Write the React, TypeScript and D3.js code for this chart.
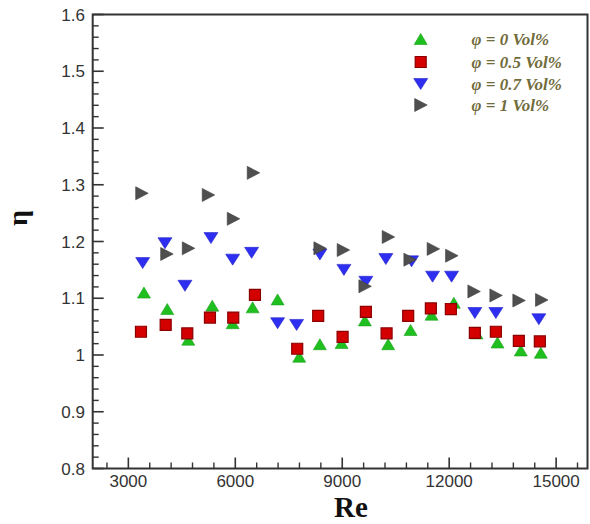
import React from "react";
import * as d3 from "d3";

// ---- data ----
const reG = [3438, 4092, 4681, 5354, 5926, 6486, 7187, 7793, 8373, 8982, 9635, 10289, 10917, 11506, 12131, 12767, 13356, 14009, 14570];
const etaG = [1.110, 1.081, 1.027, 1.087, 1.056, 1.084, 1.098, 0.997, 1.019, 1.021, 1.061, 1.019, 1.044, 1.071, 1.092, 1.038, 1.022, 1.008, 1.004];

const reR = [3354, 4047, 4653, 5289, 5943, 6551, 7737, 8326, 9010, 9663, 10244, 10850, 11486, 12047, 12720, 13309, 13954, 14543];
const etaR = [1.041, 1.053, 1.038, 1.066, 1.066, 1.106, 1.011, 1.069, 1.032, 1.076, 1.038, 1.069, 1.082, 1.081, 1.039, 1.041, 1.025, 1.024];

const reB = [3402, 4027, 4588, 5317, 5926, 6458, 7187, 7720, 8373, 9047, 9663, 10224, 10945, 11534, 12067, 12720, 13309, 14515];
const etaB = [1.162, 1.197, 1.122, 1.206, 1.168, 1.180, 1.056, 1.053, 1.177, 1.150, 1.129, 1.169, 1.165, 1.138, 1.138, 1.074, 1.074, 1.063];

const reK = [3374, 4075, 4681, 5241, 5943, 6503, 8373, 9027, 9635, 10289, 10897, 11550, 12067, 12692, 13309, 13954, 14590];
const etaK = [1.285, 1.178, 1.188, 1.282, 1.240, 1.321, 1.188, 1.185, 1.121, 1.208, 1.168, 1.187, 1.175, 1.112, 1.105, 1.096, 1.097];

const seriesLabels = ["φ = 0 Vol%", "φ = 0.5 Vol%", "φ = 0.7 Vol%", "φ = 1 Vol%"];
const xMajorTicks = [3000, 6000, 9000, 12000, 15000];
const yMajorTicks = [0.8, 0.9, 1.0, 1.1, 1.2, 1.3, 1.4, 1.5, 1.6];
const xDomain = [2000, 15880];
const yDomain = [0.8, 1.6];
const xLabel = "Re";
const yLabel = "η";

const W = 590, H = 524;
const M = { left: 92.7, right: 587.5, top: 14.5, bottom: 468.5 };

type Shape = "up" | "square" | "down" | "right";

function Marker({ shape, x, y, fill, stroke }: { shape: Shape; x: number; y: number; fill: string; stroke: string }) {
  let d = "";
  if (shape === "up") d = "M0,-5.5L6.5,5.5L-6.5,5.5Z";
  else if (shape === "down") d = "M-7,-5.5L7,-5.5L0,5.5Z";
  else if (shape === "right") d = "M-6,-6.5L6.5,0L-6,6.5Z";
  else d = "M-5.5,-5.5L5.5,-5.5L5.5,5.5L-5.5,5.5Z";
  return <path d={d} transform={`translate(${x},${y})`} fill={fill} stroke={stroke} strokeWidth={shape === "square" ? 1.2 : 0.6} />;
}

export default function App() {
  const x = d3.scaleLinear().domain(xDomain).range([M.left, M.right]);
  const y = d3.scaleLinear().domain(yDomain).range([M.bottom, M.top]);

  const xMinor = d3.range(2400, 15881, 600).filter((v) => !xMajorTicks.includes(v));
  const yMinor = d3.range(0, 41).map((i) => 0.8 + i * 0.02).filter((v) => Math.abs(Math.round(v * 10) - v * 10) > 1e-6);

  const series = [
    { re: reG, eta: etaG, shape: "up" as Shape, fill: "#1fbf1f", stroke: "#17a017" },
    { re: reR, eta: etaR, shape: "square" as Shape, fill: "#d40000", stroke: "#8a0000" },
    { re: reB, eta: etaB, shape: "down" as Shape, fill: "#2e2ef0", stroke: "#2222c8" },
    { re: reK, eta: etaK, shape: "right" as Shape, fill: "#4f4f4f", stroke: "#3c3c3c" },
  ];

  const fmtY = (v: number) => (Math.abs(v - 1) < 1e-9 ? "1" : d3.format(".1f")(v));
  const tickFont = "'Liberation Sans', Arial, sans-serif";
  const axisColor = "#333";

  const legendX = 420.7;
  const legendTextX = 471.5;
  const legendY = [39, 62, 84, 105];

  return (
    <svg width={W} height={H} style={{ position: "absolute", left: 0, top: 0, background: "#fff" }}>
      <rect x={0} y={0} width={W} height={H} fill="#fff" />
      {/* frame */}
      <rect x={M.left} y={M.top} width={M.right - M.left} height={M.bottom - M.top} fill="none" stroke={axisColor} strokeWidth={2} />

      {/* x ticks */}
      {xMajorTicks.map((t) => (
        <g key={"xm" + t}>
          <line x1={x(t)} x2={x(t)} y1={M.bottom} y2={M.bottom - 11} stroke={axisColor} strokeWidth={1.6} />
          <text x={x(t)} y={487} textAnchor="middle" fontFamily={tickFont} fontSize={17} fill="#333">{t}</text>
        </g>
      ))}
      {xMinor.map((t) => (
        <line key={"xn" + t} x1={x(t)} x2={x(t)} y1={M.bottom} y2={M.bottom - 6} stroke={axisColor} strokeWidth={1.4} />
      ))}

      {/* y ticks */}
      {yMajorTicks.map((t) => (
        <g key={"ym" + t}>
          <line x1={M.left} x2={M.left + 11} y1={y(t)} y2={y(t)} stroke={axisColor} strokeWidth={1.6} />
          <text x={85} y={y(t)} dy="0.36em" textAnchor="end" fontFamily={tickFont} fontSize={17} fill="#333">{fmtY(t)}</text>
        </g>
      ))}
      {yMinor.map((t, i) => (
        <line key={"yn" + i} x1={M.left} x2={M.left + 6} y1={y(t)} y2={y(t)} stroke={axisColor} strokeWidth={1.4} />
      ))}

      {/* points */}
      {series.map((s, si) => (
        <g key={"s" + si}>
          {s.re.map((r, i) => (
            <Marker key={i} shape={s.shape} x={x(r)} y={y(s.eta[i])} fill={s.fill} stroke={s.stroke} />
          ))}
        </g>
      ))}

      {/* legend */}
      {series.map((s, si) => (
        <g key={"l" + si}>
          <Marker shape={s.shape} x={legendX} y={legendY[si]} fill={s.fill} stroke={s.stroke} />
          <text x={legendTextX} y={legendY[si]} dy="0.35em" fontFamily="'Liberation Serif', 'Times New Roman', serif" fontStyle="italic" fontWeight="bold" fontSize={17} fill="#726c3c">
            {seriesLabels[si]}
          </text>
        </g>
      ))}

      {/* axis titles */}
      <text x={351} y={517} textAnchor="middle" fontFamily="'Liberation Serif', 'Times New Roman', serif" fontWeight="bold" fontSize={29} fill="#111">{xLabel}</text>
      <text transform="translate(27,218) rotate(-90)" textAnchor="middle" fontFamily="'Liberation Serif', 'Times New Roman', serif" fontWeight="bold" fontSize={28} fill="#111">{yLabel}</text>
    </svg>
  );
}
